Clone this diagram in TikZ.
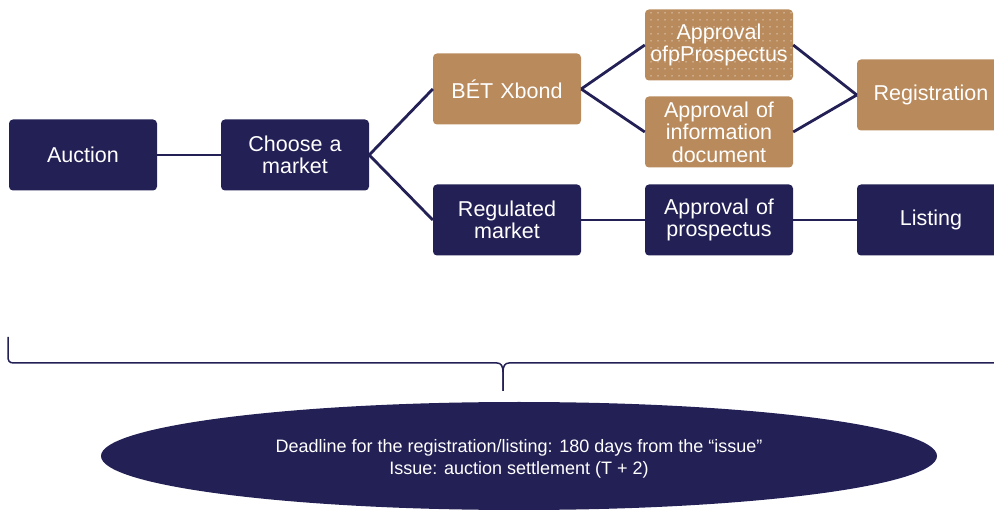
\documentclass[tikz,border=0pt]{standalone}
\usepackage{fontspec}
\setmainfont{Liberation Sans}
\usetikzlibrary{patterns.meta}

\definecolor{navy}{HTML}{232055}
\definecolor{tan}{HTML}{B98A5C}

\tikzset{
  stepbox/.style={rectangle, rounded corners=4pt, minimum width=148pt,
    minimum height=71pt, text width=144pt, align=center, text=white,
    font=\fontsize{21.5}{22.5}\selectfont, inner sep=0pt},
  navybox/.style={stepbox, fill=navy},
  tanbox/.style={stepbox, fill=tan},
  dotbox/.style={tanbox, postaction={pattern={Dots[radius=0.75pt, distance=7pt]},
    pattern color=white!60!tan}},
  link/.style={draw=navy, line width=2.8pt}
}

\begin{document}
\begin{tikzpicture}[x=1pt,y=-1pt]
       \useasboundingbox (0,0) rectangle (994,510);
       % Draw the boxes
       \node[navybox] (auction) at (83,155) {Auction};
       \node[navybox] (choose) at (295,155) {Choose a\\market};
       \node[tanbox] (xbond) at (507,89) {BÉT Xbond};
       \node[navybox] (regulated) at (507,220) {Regulated\\market};
       \node[dotbox] (appprosp) at (719,45) {Approval\\ofpProspectus};
       \node[tanbox] (appinfo) at (719,132) {Approval of\\information\\document};
       \node[navybox] (appreg) at (719,220) {Approval of\\prospectus};
       \node[tanbox] (registration) at (931,95) {Registration};
       \node[navybox] (listing) at (931,220) {Listing};

       % Draw the links between them
       \draw[link] (auction) -- (choose);
       \draw[link] (choose.east) -- (xbond.west);
       \draw[link] (choose.east) -- (regulated.west);
       \draw[link] (xbond.east) -- (appprosp.west);
       \draw[link] (xbond.east) -- (appinfo.west);
       \draw[link] (appprosp.east) -- (registration.west);
       \draw[link] (appinfo.east) -- (registration.west);
       \draw[link] (regulated) -- (appreg);
       \draw[link] (appreg) -- (listing);

       % Draw the brace
       \draw[navy, line width=1.5pt]
         (8,337) coordinate (b_1) -- (8,356)
         .. controls (8,361) and (9,363) .. (14,363) -- (497,363)
         .. controls (501,363) and (503,366) .. (503,372)
         -- (503,391) coordinate (b_tip);
       \draw[navy, line width=1.5pt]
         (b_tip) -- (503,372)
         .. controls (503,366) and (505,363) .. (509,363)
         -- (994,363) coordinate (b_2);

       % Draw the deadline ellipse
       \fill[navy] (519,456) ellipse (418pt and 54pt);
       \node[text=white, align=center, font=\fontsize{18}{21.5}\selectfont]
         (deadline) at (519,459)
         {Deadline for the registration/listing: 180 days from the “issue”\\
          Issue: auction settlement (T + 2)};
\end{tikzpicture}
\end{document}
